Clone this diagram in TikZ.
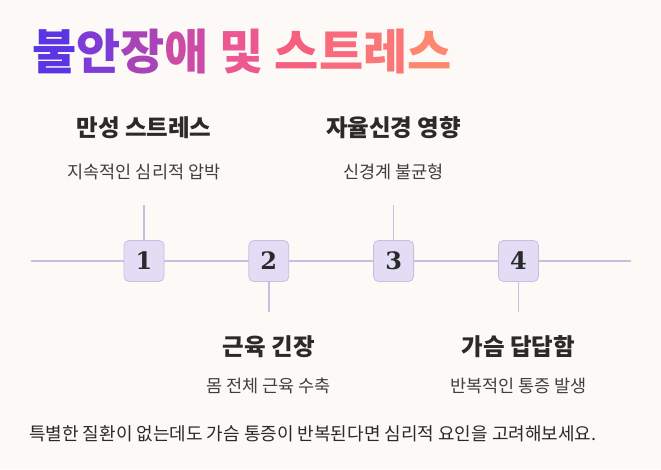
\documentclass[tikz,border=0pt]{standalone}
\usepackage{fontspec}
\setmainfont{Noto Sans CJK KR}
\newfontfamily\numfont{DejaVu Serif}
\usepackage{xcolor}
\usetikzlibrary{positioning}

\definecolor{bgcol}{HTML}{FDF9F6}
\definecolor{linecol}{HTML}{C8BEDF}
\definecolor{boxfill}{HTML}{E2DCF5}
\definecolor{boxdraw}{HTML}{C9BEE0}
\definecolor{headcol}{HTML}{2A2A2A}
\definecolor{subcol}{HTML}{3F3F3F}
\definecolor{ga}{HTML}{5B34E4}
\definecolor{gb}{HTML}{7F3BD6}
\definecolor{gc}{HTML}{A844B8}
\definecolor{gd}{HTML}{CC4BA6}
\definecolor{ge}{HTML}{EC5891}
\definecolor{gf}{HTML}{F6607F}
\definecolor{gg}{HTML}{F96B7C}
\definecolor{gh}{HTML}{FB7677}
\definecolor{gi}{HTML}{FE876F}

\begin{document}
\begin{tikzpicture}[
      x=1pt, y=1pt,
      node distance=0pt and 84pt,
      numbox/.style={draw=boxdraw, fill=boxfill, line width=0.8pt, rounded corners=5pt,
                     minimum width=40pt, minimum height=41pt, inner sep=0pt,
                     font=\numfont\bfseries\fontsize{24}{24}\selectfont, text=headcol},
      head/.style={font=\bfseries\fontsize{23.5}{25}\selectfont, text=headcol, inner sep=0pt},
      sub/.style={font=\fontsize{17.5}{19}\selectfont, text=subcol, inner sep=0pt},
      tline/.style={draw=linecol, line width=2pt},
      tick/.style={draw=linecol, line width=1.6pt}
    ]
    \fill[bgcol] (0,0) rectangle (661,469);
    \useasboundingbox (0,0) rectangle (661,469);

    % title
    \node[anchor=west, inner sep=0pt, font=\bfseries\fontsize{48}{50}\selectfont] (title) at (32,417)
      {\textcolor{ga}{불}\textcolor{gb}{안}\textcolor{gc}{장}\textcolor{gd}{애} \textcolor{ge}{및} \textcolor{gf}{스}\textcolor{gg}{트}\textcolor{gh}{레}\textcolor{gi}{스}};

    % timeline
    \coordinate (lstart) at (31,208);
    \coordinate (lend) at (631,208);
    \draw[tline] (lstart) -- (lend);

    \node[numbox] (n1) at (144,208) {1};
    \node[numbox, right=of n1] (n2) {2};
    \node[numbox, right=of n2] (n3) {3};
    \node[numbox, right=of n3] (n4) {4};

    % ticks
    \coordinate (c1) at (n1.north |- 0,264);
    \coordinate (c2) at (n2.south |- 0,157);
    \coordinate (c3) at (n3.north |- 0,264);
    \coordinate (c4) at (n4.south |- 0,157);
    \draw[tick] (n1.north) -- (c1);
    \draw[tick] (n2.south) -- (c2);
    \draw[tick] (n3.north) -- (c3);
    \draw[tick] (n4.south) -- (c4);

    % labels
    \node[head] (h1) at (n1 |- 0,341) {만성 스트레스};
    \node[sub] (s1) at (n1 |- 0,297) {지속적인 심리적 압박};
    \node[head] (h2) at (n2 |- 0,122) {근육 긴장};
    \node[sub] (s2) at (n2 |- 0,83) {몸 전체 근육 수축};
    \node[head] (h3) at (n3 |- 0,341) {자율신경 영향};
    \node[sub] (s3) at (n3 |- 0,297) {신경계 불균형};
    \node[head] (h4) at (n4 |- 0,122) {가슴 답답함};
    \node[sub] (s4) at (n4 |- 0,83) {반복적인 통증 발생};

    \node[anchor=west, inner sep=0pt, font=\fontsize{18}{20}\selectfont, text=headcol] (note) at (29,35)
      {특별한 질환이 없는데도 가슴 통증이 반복된다면 심리적 요인을 고려해보세요.};
  \end{tikzpicture}
\end{document}
